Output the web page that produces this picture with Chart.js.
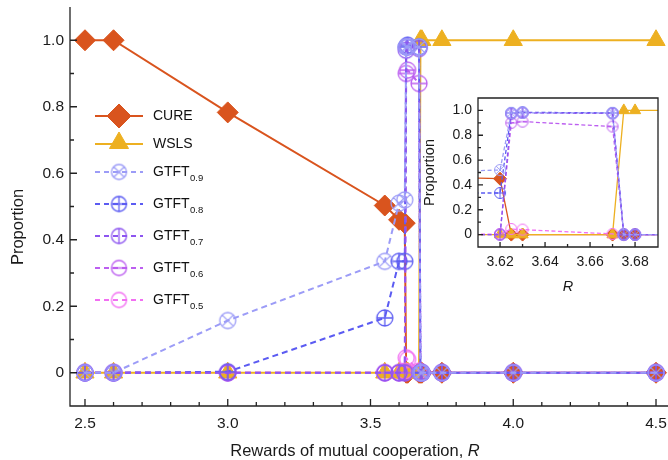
<!DOCTYPE html>
<html>
<head>
<meta charset="utf-8">
<script src="https://cdn.jsdelivr.net/npm/chart.js@4.4.1/dist/chart.umd.min.js"></script>
<style>
  body { margin: 0; background: #fff; }
  #wrap { position: relative; width: 668px; height: 460px; }
  canvas { position: absolute; }
</style>
</head>
<body>
<div id="wrap">
  <canvas id="mainChart" width="668" height="460" style="left:0;top:0;width:668px;height:460px"></canvas>
  <canvas id="insetChart" width="254" height="220" style="left:414px;top:86px;width:254px;height:220px"></canvas>
</div>
<script>
// values
const rValues = [2.5, 2.6, 3.0, 3.55, 3.6, 3.62, 3.625, 3.63, 3.67, 3.675, 3.68, 3.75, 4.0, 4.5];
const cure   = [1, 1, 0.783, 0.503, 0.46, 0.45, 0, 0, 0, 0, 0, 0, 0, 0];
const wsls   = [0, 0, 0, 0, 0, 0, 0, 0, 0, 1, 1, 1, 1, 1];
const gtft09 = [0, 0, 0.157, 0.335, 0.51, 0.52, 0.98, 0.98, 0.98, 0, 0, 0, 0, 0];
const gtft08 = [0, 0, 0.003, 0.165, 0.335, 0.335, 0.98, 0.985, 0.98, 0, 0, 0, 0, 0];
const gtft07 = [0, 0, 0, 0, 0, 0, 0.97, 0.98, 0.975, 0, 0, 0, 0, 0];
const gtft06 = [0, 0, 0, 0, 0, 0, 0.90, 0.91, 0.87, 0, 0, 0, 0, 0];
const gtft05 = [0, 0, 0, 0, 0, 0.005, 0.045, 0.04, 0.005, 0, 0, 0, 0, 0];

const seriesNames = ['CURE', 'WSLS', 'GTFT', 'GTFT', 'GTFT', 'GTFT', 'GTFT'];
const seriesSubs  = ['', '', '0.9', '0.8', '0.7', '0.6', '0.5'];
const seriesData  = [cure, wsls, gtft09, gtft08, gtft07, gtft06, gtft05];
const seriesColors = ['#D9541E', '#EDB021', '#9C9CF7', '#5B5BF2', '#8D55F0', '#BC5EF0', '#F26FF2'];
const seriesMarks  = ['diamond', 'triangle', 'x', 'plus', 'v', 'h', 'o'];
const seriesOrder  = [7, 6, 1, 3, 2, 4, 5];

const mainXTicks  = [2.5, 3.0, 3.5, 4.0, 4.5];
const insetXTicks = [3.62, 3.64, 3.66, 3.68];
const yTicks = [0, 0.2, 0.4, 0.6, 0.8, 1.0];

const FONT = '"Liberation Sans", Arial, Helvetica, sans-serif';

// open circle with a cross / plus / bar inside
function makeMarker(kind, color, r, lw) {
    const s = Math.ceil(2 * r + lw + 2);
    const c = document.createElement('canvas');
    c.width = s; c.height = s;
    const g = c.getContext('2d');
    const m = s / 2;
    g.strokeStyle = color;
    g.lineWidth = lw;
    g.beginPath();
    g.arc(m, m, r, 0, Math.PI * 2);
    if (kind === 'x') {
        const d = r * Math.SQRT1_2;
        g.moveTo(m - d, m - d); g.lineTo(m + d, m + d);
        g.moveTo(m + d, m - d); g.lineTo(m - d, m + d);
    }
    if (kind === 'plus' || kind === 'v') { g.moveTo(m, m - r); g.lineTo(m, m + r); }
    if (kind === 'plus' || kind === 'h') { g.moveTo(m - r, m); g.lineTo(m + r, m); }
    g.stroke();
    return c;
}

function buildDatasets(sz) {
    return seriesData.map((vals, i) => {
        const col = seriesColors[i];
        const mark = seriesMarks[i];
        const solid = i < 2;
        let ps, pr;
        if (mark === 'diamond') { ps = 'rectRot'; pr = sz.diamond; }
        else if (mark === 'triangle') { ps = 'triangle'; pr = sz.tri; }
        else { ps = makeMarker(mark, col, sz.circle, sz.mlw); pr = sz.circle; }
        return {
            label: seriesNames[i] + seriesSubs[i],
            data: rValues.map((x, j) => ({ x: x, y: vals[j] })),
            borderColor: col,
            backgroundColor: col,
            borderWidth: sz.lw,
            borderDash: solid ? [] : sz.dash,
            pointStyle: ps,
            pointRadius: pr,
            pointBorderWidth: 1,
            pointBackgroundColor: col,
            pointBorderColor: col,
            tension: 0,
            order: seriesOrder[i]
        };
    });
}

// axes lines + inward major/minor ticks
const frameTicks = {
    id: 'frameTicks',
    afterDatasetsDraw(chart, args, o) {
        const { ctx, chartArea: a } = chart;
        const x = chart.scales.x, y = chart.scales.y;
        ctx.save();
        ctx.strokeStyle = '#222';
        ctx.lineWidth = o.lw;
        ctx.setLineDash([]);
        ctx.beginPath();
        if (o.box) {
            ctx.rect(a.left, a.top, a.right - a.left, a.bottom - a.top);
        } else {
            ctx.moveTo(a.left, a.top);
            ctx.lineTo(a.left, a.bottom);
            ctx.lineTo(a.right, a.bottom);
        }
        const isMajor = (v, step) => Math.abs(Math.round(v / step) * step - v) < 1e-6;
        const nx = Math.round((o.xEnd - o.xStart) / o.xMinor);
        for (let k = 0; k <= nx; k++) {
            const v = o.xStart + k * o.xMinor;
            const px = x.getPixelForValue(v);
            const len = isMajor(v, o.xMajor) ? o.major : o.minor;
            ctx.moveTo(px, a.bottom);
            ctx.lineTo(px, a.bottom - len);
        }
        const ny = Math.round((o.yEnd - o.yStart) / o.yMinor);
        for (let k = 0; k <= ny; k++) {
            const v = o.yStart + k * o.yMinor;
            const py = y.getPixelForValue(v);
            const len = isMajor(v, o.yMajor) ? o.major : o.minor;
            ctx.moveTo(a.left, py);
            ctx.lineTo(a.left + len, py);
        }
        ctx.stroke();
        ctx.restore();
    }
};

function drawRTitle(ctx, text, cx, cy, size) {
    ctx.font = size + 'px ' + FONT;
    const w1 = ctx.measureText(text).width;
    ctx.font = 'italic ' + size + 'px ' + FONT;
    const w2 = ctx.measureText('R').width;
    const x0 = cx - (w1 + w2) / 2;
    ctx.textAlign = 'left';
    ctx.textBaseline = 'middle';
    ctx.font = size + 'px ' + FONT;
    ctx.fillText(text, x0, cy);
    ctx.font = 'italic ' + size + 'px ' + FONT;
    ctx.fillText('R', x0 + w1, cy);
}

function drawVTitle(ctx, text, cx, cy, size) {
    ctx.save();
    ctx.translate(cx, cy);
    ctx.rotate(-Math.PI / 2);
    ctx.font = size + 'px ' + FONT;
    ctx.textAlign = 'center';
    ctx.textBaseline = 'middle';
    ctx.fillText(text, 0, 0);
    ctx.restore();
}

function drawDiamond(ctx, x, y, r) {
    ctx.beginPath();
    ctx.moveTo(x - r, y); ctx.lineTo(x, y - r); ctx.lineTo(x + r, y); ctx.lineTo(x, y + r);
    ctx.closePath();
    ctx.fill(); ctx.stroke();
}

function drawTriangle(ctx, x, y, r) {
    const h = r * Math.sin(Math.PI / 3);
    ctx.beginPath();
    ctx.moveTo(x, y - r); ctx.lineTo(x + h, y + r / 2); ctx.lineTo(x - h, y + r / 2);
    ctx.closePath();
    ctx.fill(); ctx.stroke();
}

const legendRows = [116, 144, 172, 204, 236, 268, 300];

const mainLabels = {
    id: 'mainLabels',
    afterDraw(chart) {
        const ctx = chart.ctx;
        ctx.save();
        ctx.fillStyle = '#1a1a1a';
        drawRTitle(ctx, 'Rewards of mutual cooperation, ', 355, 451, 16.5);
        drawVTitle(ctx, 'Proportion', 18, 227, 16.5);

        // legend
        seriesData.forEach((vals, i) => {
            const yy = legendRows[i];
            const col = seriesColors[i];
            ctx.strokeStyle = col;
            ctx.fillStyle = col;
            ctx.lineWidth = 2;
            ctx.setLineDash(i < 2 ? [] : [5, 4]);
            ctx.beginPath();
            ctx.moveTo(95, yy); ctx.lineTo(143, yy);
            ctx.stroke();
            ctx.setLineDash([]);
            ctx.lineWidth = 1;
            if (seriesMarks[i] === 'diamond') drawDiamond(ctx, 119, yy, 12);
            else if (seriesMarks[i] === 'triangle') drawTriangle(ctx, 119, yy - 1, 11);
            else {
                const m = makeMarker(seriesMarks[i], col, 7.5, 1.3);
                ctx.drawImage(m, 119 - m.width / 2, yy - m.height / 2);
            }
            ctx.fillStyle = '#111';
            ctx.textAlign = 'left';
            ctx.textBaseline = 'middle';
            ctx.font = '14px ' + FONT;
            ctx.fillText(seriesNames[i], 153, yy);
            if (seriesSubs[i]) {
                const w = ctx.measureText(seriesNames[i]).width;
                ctx.font = '9.5px ' + FONT;
                ctx.fillText(seriesSubs[i], 153 + w + 0.5, yy + 6);
            }
        });
        ctx.restore();
    }
};

const insetLabels = {
    id: 'insetLabels',
    afterDraw(chart) {
        const ctx = chart.ctx;
        const a = chart.chartArea;
        ctx.save();
        ctx.fillStyle = '#1a1a1a';
        drawVTitle(ctx, 'Proportion', 16, (a.top + a.bottom) / 2, 14.5);
        ctx.font = 'italic 14.5px ' + FONT;
        ctx.textAlign = 'center';
        ctx.textBaseline = 'middle';
        ctx.fillText('R', (a.left + a.right) / 2, 201);
        ctx.restore();
    }
};

function scaleOpts(min, max, tickVals, fontSize, pad, fmt, fitFn) {
    return {
        type: 'linear',
        min: min,
        max: max,
        afterBuildTicks: s => { s.ticks = tickVals.map(v => ({ value: v })); },
        afterFit: fitFn,
        grid: { display: false, drawTicks: false },
        border: { display: false },
        ticks: {
            padding: pad,
            autoSkip: false,
            maxRotation: 0,
            color: '#1a1a1a',
            font: { family: FONT, size: fontSize },
            callback: fmt
        }
    };
}

const fmtX = v => v.toFixed(1);
const fmtXi = v => v.toFixed(2);
const fmtY = v => (v === 0 ? '0' : v.toFixed(1));

new Chart(document.getElementById('mainChart'), {
    type: 'line',
    data: { datasets: buildDatasets({ diamond: 10.5, tri: 10.5, circle: 8, mlw: 1.3, lw: 2, dash: [6, 4] }) },
    options: {
        responsive: false,
        animation: false,
        clip: false,
        layout: { autoPadding: false, padding: { left: 0, top: 7, right: 0, bottom: 0 } },
        plugins: {
            legend: { display: false },
            tooltip: { enabled: false },
            frameTicks: { box: false, lw: 1.3, major: 7, minor: 4,
                xStart: 2.5, xEnd: 4.5, xMinor: 0.1, xMajor: 0.5,
                yStart: 0, yEnd: 1.0, yMinor: 0.1, yMajor: 0.2 }
        },
        scales: {
            x: scaleOpts(2.4475, 4.542, mainXTicks, 15.5, 8, fmtX,
                s => { s.height = 54; s.paddingLeft = 0; s.paddingRight = 0; }),
            y: scaleOpts(-0.1, 1.1, yTicks, 15.5, 6, fmtY,
                s => { s.width = 70; s.paddingTop = 0; s.paddingBottom = 0; })
        }
    },
    plugins: [frameTicks, mainLabels]
});

new Chart(document.getElementById('insetChart'), {
    type: 'line',
    data: { datasets: buildDatasets({ diamond: 6.5, tri: 6.5, circle: 5.5, mlw: 1, lw: 1.3, dash: [4, 2.5] }) },
    options: {
        responsive: false,
        animation: false,
        layout: { autoPadding: false, padding: { left: 0, top: 12, right: 10, bottom: 0 } },
        plugins: {
            legend: { display: false },
            tooltip: { enabled: false },
            frameTicks: { box: true, lw: 1.3, major: 5, minor: 3,
                xStart: 3.62, xEnd: 3.68, xMinor: 0.01, xMajor: 0.02,
                yStart: 0, yEnd: 1.0, yMinor: 0.1, yMajor: 0.2 }
        },
        scales: {
            x: scaleOpts(3.6102, 3.6902, insetXTicks, 14, 7, fmtXi,
                s => { s.height = 59; s.paddingLeft = 0; s.paddingRight = 0; }),
            y: scaleOpts(-0.1, 1.1, yTicks, 14, 6, fmtY,
                s => { s.width = 64; s.paddingTop = 0; s.paddingBottom = 0; })
        }
    },
    plugins: [frameTicks, insetLabels]
});
</script>
</body>
</html>
